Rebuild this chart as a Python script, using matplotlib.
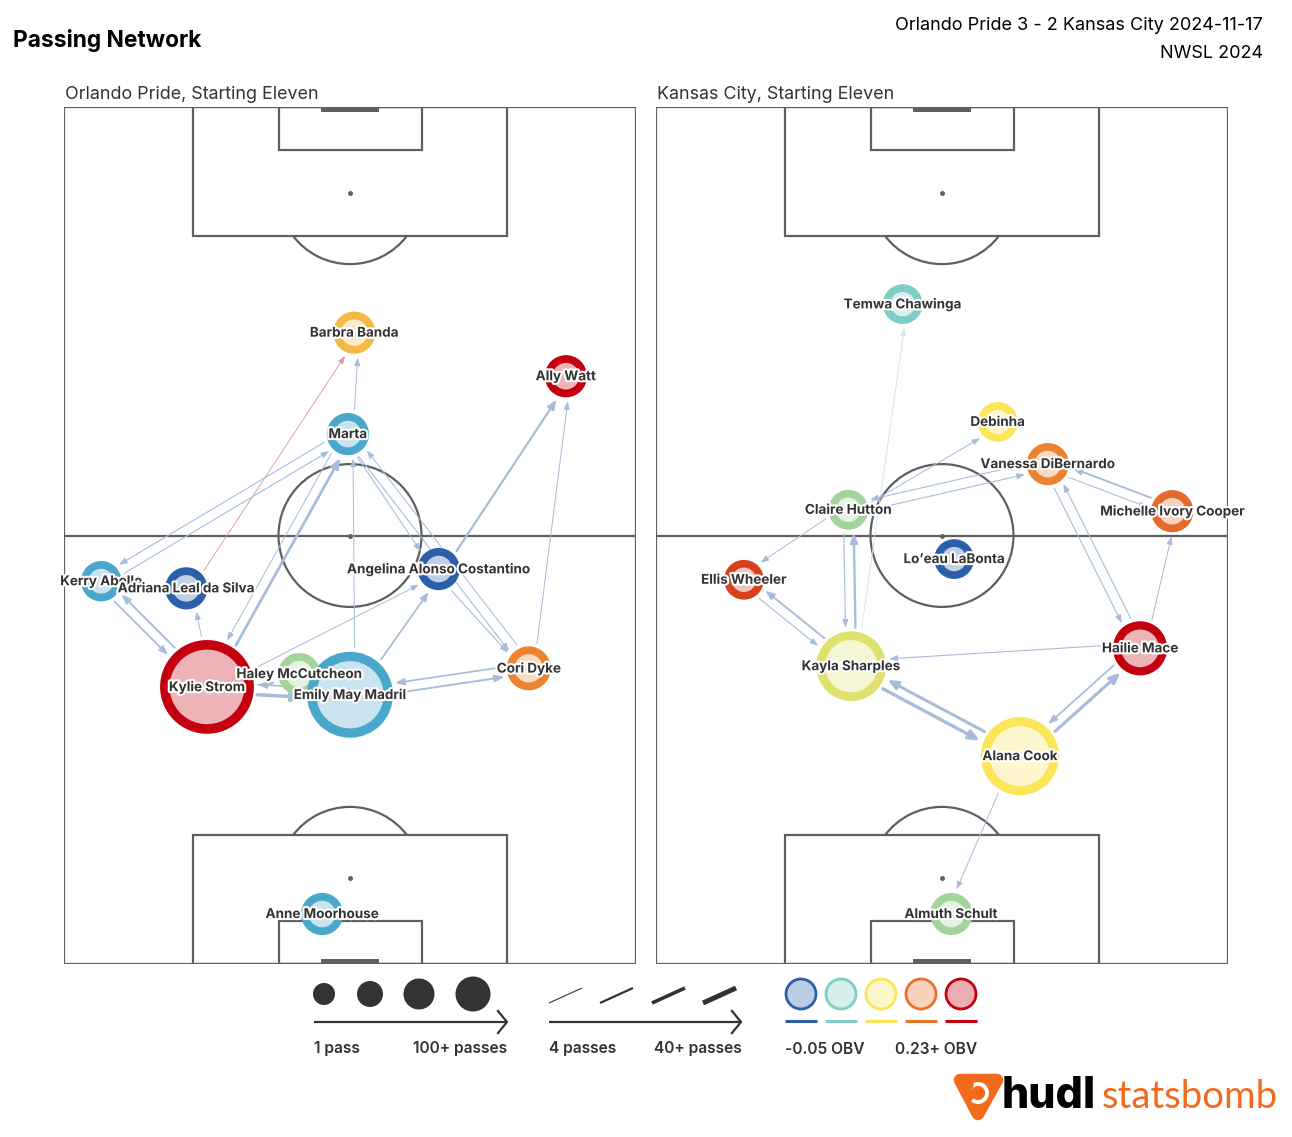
import numpy as np
import matplotlib
matplotlib.use("Agg")
import matplotlib.pyplot as plt
from matplotlib.patches import Circle, Arc, Rectangle, FancyArrowPatch, Polygon
from matplotlib.colors import LinearSegmentedColormap, to_rgb
import matplotlib.patheffects as pe

plt.rcParams['font.family'] = ['Inter', 'DejaVu Sans']

#%% data
title = "Passing Network"
match_line = "Orlando Pride 3 - 2 Kansas City 2024-11-17"
comp_line = "NWSL 2024"
home_title = "Orlando Pride, Starting Eleven"
away_title = "Kansas City, Starting Eleven"

# average positions on a 80 x 120 pitch (attacking upwards), passes, OBV
home_players = ["Barbra Banda", "Ally Watt", "Marta", "Kerry Abello", "Adriana Leal da Silva",
                "Angelina Alonso Costantino", "Cori Dyke", "Haley McCutcheon", "Kylie Strom",
                "Emily May Madril", "Anne Moorhouse"]
home_x = [40.6, 70.2, 39.7, 5.2, 17.1, 52.4, 65.0, 32.9, 20.0, 40.0, 36.1]
home_y = [88.4, 82.3, 74.2, 53.6, 52.6, 55.3, 41.4, 40.6, 38.8, 37.7, 7.0]
home_passes = [17, 17, 17, 14, 17, 17, 20, 17, 103, 90, 17]
home_obv = [0.118, 0.24, -0.017, -0.017, -0.06, -0.06, 0.15, 0.054, 0.24, -0.017, -0.017]

home_from = ["Kerry Abello", "Kylie Strom", "Kylie Strom", "Marta", "Adriana Leal da Silva",
             "Kylie Strom", "Marta", "Kerry Abello", "Marta", "Marta", "Marta",
             "Angelina Alonso Costantino", "Cori Dyke", "Emily May Madril", "Emily May Madril",
             "Kylie Strom", "Angelina Alonso Costantino", "Cori Dyke", "Cori Dyke",
             "Emily May Madril", "Kylie Strom", "Emily May Madril", "Kylie Strom"]
home_to = ["Kylie Strom", "Kerry Abello", "Marta", "Kylie Strom", "Barbra Banda",
           "Adriana Leal da Silva", "Kerry Abello", "Marta", "Barbra Banda",
           "Angelina Alonso Costantino", "Cori Dyke", "Cori Dyke", "Marta", "Marta",
           "Angelina Alonso Costantino", "Angelina Alonso Costantino", "Ally Watt", "Ally Watt",
           "Emily May Madril", "Cori Dyke", "Emily May Madril", "Kylie Strom", "Haley McCutcheon"]
home_count = [12, 14, 22, 5, 4, 5, 6, 6, 5, 6, 6, 6, 5, 5, 12, 5, 17, 5, 12, 14, 30, 12, 10]
home_edge_obv = [-0.05, -0.05, -0.05, -0.05, 0.25, -0.05, -0.05, -0.05, -0.05, -0.05, -0.05, -0.05,
                 -0.05, -0.05, -0.05, -0.05, -0.05, -0.05, -0.05, -0.05, -0.05, -0.05, -0.05]

away_players = ["Temwa Chawinga", "Debinha", "Vanessa DiBernardo", "Claire Hutton",
                "Michelle Ivory Cooper", "Lo\u2019eau LaBonta", "Ellis Wheeler", "Hailie Mace",
                "Kayla Sharples", "Alana Cook", "Almuth Schult"]
away_x = [34.5, 47.8, 54.8, 26.9, 72.2, 41.7, 12.3, 67.7, 27.3, 50.9, 41.3]
away_y = [92.4, 75.9, 70.0, 63.6, 63.4, 56.7, 53.8, 44.2, 41.7, 29.1, 7.0]
away_passes = [13, 13, 17, 13, 17, 13, 13, 37, 63, 77, 17]
away_obv = [0.02, 0.09, 0.15, 0.054, 0.165, -0.06, 0.19, 0.24, 0.078, 0.09, 0.054]

away_from = ["Kayla Sharples", "Claire Hutton", "Kayla Sharples", "Claire Hutton",
             "Vanessa DiBernardo", "Claire Hutton", "Claire Hutton", "Kayla Sharples",
             "Ellis Wheeler", "Hailie Mace", "Kayla Sharples", "Alana Cook", "Alana Cook",
             "Hailie Mace", "Alana Cook", "Vanessa DiBernardo", "Hailie Mace",
             "Michelle Ivory Cooper", "Vanessa DiBernardo", "Hailie Mace"]
away_to = ["Temwa Chawinga", "Kayla Sharples", "Claire Hutton", "Vanessa DiBernardo",
           "Claire Hutton", "Debinha", "Ellis Wheeler", "Ellis Wheeler", "Kayla Sharples",
           "Kayla Sharples", "Alana Cook", "Kayla Sharples", "Hailie Mace", "Alana Cook",
           "Almuth Schult", "Hailie Mace", "Vanessa DiBernardo", "Vanessa DiBernardo",
           "Michelle Ivory Cooper", "Michelle Ivory Cooper"]
away_count = [4, 6, 18, 6, 6, 5, 5, 14, 6, 6, 28, 24, 26, 12, 5, 6, 6, 14, 5, 5]
away_edge_obv = [0.02, -0.05, -0.05, -0.05, -0.05, -0.05, -0.05, -0.05, -0.05, -0.05, -0.05,
                 -0.05, -0.05, -0.05, -0.05, -0.05, -0.05, -0.05, -0.05, -0.05]

legend_obv = [-0.05, 0.02, 0.09, 0.16, 0.23]

#%% styling
W, H = 1292, 1137
PX = 572 / 80.0          # pixels per pitch unit
LINE = '#5f5f5f'
TXT = '#333333'
cmap = LinearSegmentedColormap.from_list(
    'obv', [(0.0, '#2b5fa8'), (0.12, '#4aa8cc'), (0.25, '#7fcdc6'), (0.37, '#a2d39c'),
            (0.5, '#fbe658'), (0.75, '#e8732c'), (1.0, '#c40010')])


def obv_color(v):
    t = (min(max(v, -0.05), 0.23) + 0.05) / 0.28
    return cmap(t)


def lighten(c, a):
    c = np.array(to_rgb(c))
    return tuple(1 - (1 - c) * a)


def draw_pitch(ax):
    lw = 1.6
    kw = dict(color=LINE, lw=lw, zorder=1)
    ax.add_patch(Rectangle((0, 0), 80, 120, fill=False, ec=LINE, lw=lw, zorder=1))
    ax.plot([0, 80], [60, 60], **kw)
    ax.add_patch(Circle((40, 60), 10, fill=False, ec=LINE, lw=lw, zorder=1))
    ax.plot(40, 60, 'o', color=LINE, ms=2.5, zorder=1)
    for g, s in ((0, 1), (120, -1)):
        ax.add_patch(Rectangle((18, g), 44, 18 * s, fill=False, ec=LINE, lw=lw, zorder=1))
        ax.add_patch(Rectangle((30, g), 20, 6 * s, fill=False, ec=LINE, lw=lw, zorder=1))
        ax.add_patch(Rectangle((36, g), 8, 0.75 * s, color=LINE, lw=0, zorder=1))
        ax.plot(40, g + 12 * s, 'o', color=LINE, ms=2.5, zorder=1)
        if s == 1:
            ax.add_patch(Arc((40, 12), 20, 20, theta1=36.87, theta2=143.13, ec=LINE, lw=lw, zorder=1))
        else:
            ax.add_patch(Arc((40, 108), 20, 20, theta1=216.87, theta2=323.13, ec=LINE, lw=lw, zorder=1))
    ax.set_xlim(0, 80)
    ax.set_ylim(0, 120)
    ax.axis('off')


def node_radius_px(p):
    return 16 + 0.3 * min(p, 105)


def draw_network(ax, players, xs, ys, passes, obv, src, dst, cnt, eobv):
    rad = [node_radius_px(p) / PX for p in passes]
    # edges
    for a, b, c, o in zip(src, dst, cnt, eobv):
        i, j = players.index(a), players.index(b)
        p1 = np.array([xs[i], ys[i]])
        p2 = np.array([xs[j], ys[j]])
        u = (p2 - p1) / np.linalg.norm(p2 - p1)
        n = np.array([u[1], -u[0]])
        off = 0.7
        s = p1 + u * (rad[i] + 0.5) + n * off
        e = p2 - u * (rad[j] + 0.5) + n * off
        lw = (0.5 + 0.1 * min(c, 40)) * 0.72
        col = lighten(obv_color(o), 0.42)
        ax.add_patch(FancyArrowPatch(
            s, e, arrowstyle=f'-|>,head_length={4.0 + lw},head_width={1.3 + 0.6 * lw}',
            mutation_scale=1, lw=lw, color=col, shrinkA=0, shrinkB=0, zorder=2))
    # nodes
    for k in range(len(players)):
        r_px = node_radius_px(passes[k])
        ring = 6.3 + 0.07 * r_px
        col = obv_color(obv[k])
        ax.add_patch(Circle((xs[k], ys[k]), (r_px - ring / 2) / PX,
                            fc=lighten(col, 0.3), ec=col, lw=ring * 0.72, zorder=3,
                            clip_on=False))
    for k in range(len(players)):
        ax.text(xs[k], ys[k], players[k], ha='center', va='center', fontsize=9.7,
                fontweight='bold', color=TXT, zorder=5,
                path_effects=[pe.withStroke(linewidth=3, foreground='white')])


#%% figure
fig = plt.figure(figsize=(W / 100, H / 100), dpi=100)
fig.patch.set_facecolor('white')

def px_axes(x0, y0, x1, y1):
    return fig.add_axes([x0 / W, 1 - y1 / H, (x1 - x0) / W, (y1 - y0) / H])

ax_home = px_axes(64, 107, 636, 964)
ax_away = px_axes(656, 107, 1228, 964)
for ax in (ax_home, ax_away):
    draw_pitch(ax)

draw_network(ax_home, home_players, home_x, home_y, home_passes, home_obv,
             home_from, home_to, home_count, home_edge_obv)
draw_network(ax_away, away_players, away_x, away_y, away_passes, away_obv,
             away_from, away_to, away_count, away_edge_obv)

ax_home.text(0.1, 120.6, home_title, fontsize=12.9, color=TXT, va='bottom', ha='left')
ax_away.text(0.1, 120.6, away_title, fontsize=12.9, color=TXT, va='bottom', ha='left')

fig.text(13 / W, 1 - 41 / H, title, fontsize=16.4, fontweight='bold', color='black',
         va='center', ha='left')
fig.text(1263 / W, 1 - 25 / H, match_line, fontsize=13, color='black', va='center', ha='right')
fig.text(1263 / W, 1 - 53 / H, comp_line, fontsize=13, color='black', va='center', ha='right')

#%% legend (overlay in pixel coordinates)
lg = fig.add_axes([0, 0, 1, 1], facecolor='none')
lg.set_xlim(0, W)
lg.set_ylim(H, 0)
lg.axis('off')
DARK = '#333333'
LFS = 11.2


def legend_arrow(x0, x1, y):
    lg.plot([x0, x1], [y, y], color=DARK, lw=1.6, solid_capstyle='butt')
    lg.plot([x1 - 9, x1, x1 - 9], [y - 11, y, y + 11], color=DARK, lw=1.6)


for cx, r in zip([324, 370, 419, 473], [11, 13, 15.5, 17.5]):
    lg.add_patch(Circle((cx, 994), r, color=DARK, lw=0))
legend_arrow(314, 507, 1022)
lg.text(314, 1049, "1 pass", fontsize=LFS, fontweight='semibold', color=DARK, ha='left', va='center')
lg.text(507, 1049, "100+ passes", fontsize=LFS, fontweight='semibold', color=DARK, ha='right', va='center')

for x0, w in zip([549, 600, 652, 703], [0.8, 1.6, 2.6, 3.6]):
    lg.plot([x0, x0 + 33], [1003, 988], color=DARK, lw=w, solid_capstyle='butt')
legend_arrow(549, 741, 1022)
lg.text(549, 1049, "4 passes", fontsize=LFS, fontweight='semibold', color=DARK, ha='left', va='center')
lg.text(742, 1049, "40+ passes", fontsize=LFS, fontweight='semibold', color=DARK, ha='right', va='center')

for k, v in enumerate(legend_obv):
    cx = 801 + 40 * k
    col = obv_color(v)
    lg.add_patch(Circle((cx, 994), 15, fc=lighten(col, 0.32), ec=col, lw=2.0))
    lg.plot([cx - 16, cx + 16], [1021, 1021], color=col, lw=2.2, solid_capstyle='butt')
lg.text(785, 1049, "-0.05 OBV", fontsize=LFS, fontweight='semibold', color=DARK, ha='left', va='center')
lg.text(977, 1049, "0.23+ OBV", fontsize=LFS, fontweight='semibold', color=DARK, ha='right', va='center')

# logo
ORANGE = '#f26a1b'
lg.add_patch(Polygon([[960, 1080], [997, 1080], [978, 1114]], closed=True, fc=ORANGE, ec=ORANGE,
                     lw=9, joinstyle='round'))
lg.add_patch(Arc((978, 1093), 18, 18, theta1=210, theta2=130, ec='white', lw=2.8))
lg.add_patch(Circle((969, 1085), 4, color=ORANGE))
lg.text(1002, 1097, "hudl", fontsize=31, fontweight='heavy', color='black', ha='left', va='center')
lg.text(1278, 1097, "statsbomb", fontsize=27.5, color=ORANGE, ha='right', va='center',
        family=['Lato', 'DejaVu Sans'])

fig.savefig("out.png", dpi=100, facecolor='white')
